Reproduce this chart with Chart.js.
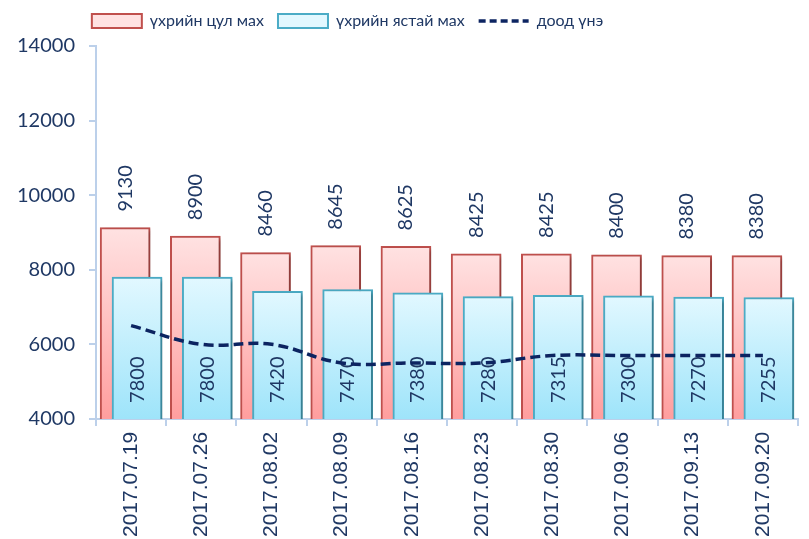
<!DOCTYPE html>
<html>
<head>
<meta charset="utf-8">
<script src="https://cdn.jsdelivr.net/npm/chart.js@4.4.0/dist/chart.umd.min.js"></script>
<style>
  body { margin: 0; overflow: hidden; background: #fff; }
  #wrap { width: 809px; height: 543px; }
</style>
</head>
<body>
<div id="wrap"><canvas id="price-chart"></canvas></div>
<script>
const dates = ['2017.07.19', '2017.07.26', '2017.08.02', '2017.08.09', '2017.08.16',
  '2017.08.23', '2017.08.30', '2017.09.06', '2017.09.13', '2017.09.20']
const fillet = [9130, 8900, 8460, 8645, 8625, 8425, 8425, 8400, 8380, 8380]
const boneMeat = [7800, 7800, 7420, 7470, 7380, 7280, 7315, 7300, 7270, 7255]
const lowPrice = [6500, 6000, 6000, 5500, 5500, 5500, 5700, 5700, 5700, 5700]
const yTicks = { min: 4000, max: 14000, step: 2000 }

const navy = '#1F3864'
const lineNavy = '#0C2461'
const axisBlue = '#BCD0EA'
const shift = 0.085 // bar offset from category centre, in categories

function grad(top, bottom, fallback) {
  return (c) => {
    const ch = c.chart
    const area = ch.chartArea
    if (!area || c.type !== 'data') return fallback
    const yTop = ch.scales.y.getPixelForValue(c.raw.y)
    const g = ch.ctx.createLinearGradient(0, yTop, 0, area.bottom)
    g.addColorStop(0, top)
    g.addColorStop(1, bottom)
    return g
  }
}

const shadowAndLabels = {
  id: 'shadowAndLabels',
  beforeDatasetDraw(chart, args) {
    const ctx = chart.ctx
    ctx.save()
    if (args.meta.type === 'bar') {
      ctx.shadowColor = 'rgba(0,0,0,0.28)'
      ctx.shadowBlur = 4
      ctx.shadowOffsetX = 3
      ctx.shadowOffsetY = 2
    }
  },
  afterDatasetDraw(chart, args) {
    const ctx = chart.ctx
    ctx.restore()
    if (args.meta.type !== 'bar') return
    const inside = args.index === 1
    const bottom = chart.scales.y.bottom
    ctx.save()
    ctx.fillStyle = navy
    ctx.font = '20px Lato, "Noto Sans", sans-serif'
    ctx.textAlign = 'left'
    ctx.textBaseline = 'middle'
    args.meta.data.forEach((bar, i) => {
      const p = bar.getProps(['x', 'y'], true)
      const val = chart.data.datasets[args.index].data[i].y
      ctx.save()
      ctx.translate(p.x, inside ? bottom - 16 : p.y - 16)
      ctx.rotate(-Math.PI / 2)
      ctx.fillText(String(val), 0, 0)
      ctx.restore()
    })
    ctx.restore()
  },
}

// legend sits a little left of centre and above the padded plot
const legendShift = {
  id: 'legendShift',
  beforeDraw(chart) {
    const lg = chart.legend
    lg.left -= 53
    lg.right -= 53
    lg.top -= 7
    lg.bottom -= 7
  },
}

const hiddenBarAxis = (off) => ({
  type: 'linear',
  display: false,
  offset: false,
  bounds: 'data',
  min: -0.5 + off,
  max: 9.5 + off,
  afterBuildTicks(scale) {
    scale.min = -0.5 + off
    scale.max = 9.5 + off
  },
})

new Chart(document.getElementById('price-chart'), {
  type: 'bar',
  data: {
    labels: dates,
    datasets: [
      {
        label: 'үхрийн цул мах',
        data: fillet.map((v, i) => ({ x: i, y: v })),
        xAxisID: 'xr',
        order: 2,
        grouped: false,
        backgroundColor: grad('rgb(255,226,226)', 'rgb(255,158,158)', 'rgb(255,205,205)'),
        borderColor: '#C0504D',
        borderWidth: 2,
        barThickness: 50,
        pointStyle: 'rect',
      },
      {
        label: 'үхрийн ястай мах',
        data: boneMeat.map((v, i) => ({ x: i, y: v })),
        xAxisID: 'xb',
        order: 1,
        grouped: false,
        backgroundColor: grad('rgb(226,248,255)', 'rgb(158,228,250)', 'rgb(205,242,253)'),
        borderColor: '#4BACC6',
        borderWidth: 2,
        barThickness: 50,
        pointStyle: 'rect',
      },
      {
        type: 'line',
        label: 'доод үнэ',
        data: lowPrice,
        xAxisID: 'x',
        order: 0,
        borderColor: lineNavy,
        backgroundColor: lineNavy,
        borderWidth: 3.5,
        borderDash: [10, 5],
        tension: 0.4,
        pointRadius: 0,
        pointStyle: 'line',
        fill: false,
      },
    ],
  },
  options: {
    responsive: true,
    maintainAspectRatio: false,
    animation: false,
    layout: { padding: { left: 3, right: 11, top: 6, bottom: 0 } },
    scales: {
      x: {
        type: 'category',
        offset: true,
        grid: { offset: true, drawOnChartArea: false, tickLength: 7, color: axisBlue, lineWidth: 2 },
        border: { color: axisBlue, width: 2 },
        ticks: {
          autoSkip: false,
          minRotation: 90,
          maxRotation: 90,
          padding: 6,
          color: navy,
          font: { family: '"Liberation Sans", Arial, sans-serif', size: 21 },
        },
      },
      xr: hiddenBarAxis(shift),
      xb: hiddenBarAxis(-shift),
      y: {
        min: yTicks.min,
        max: yTicks.max,
        grid: { drawOnChartArea: false, tickLength: 7, color: axisBlue, lineWidth: 2 },
        border: { color: axisBlue, width: 2 },
        ticks: {
          stepSize: yTicks.step,
          padding: 14,
          color: navy,
          font: { family: 'Lato, "Noto Sans", sans-serif', size: 20 },
          callback: (v) => String(v),
        },
      },
    },
    plugins: {
      tooltip: { enabled: false },
      legend: {
        labels: {
          usePointStyle: true,
          pointStyleWidth: 50,
          boxHeight: 14,
          padding: 14,
          color: navy,
          font: { family: 'Lato, "Noto Sans", sans-serif', size: 16 },
          sort: (a, b) => a.datasetIndex - b.datasetIndex,
          generateLabels(chart) {
            const items = Chart.defaults.plugins.legend.labels.generateLabels(chart)
            items.forEach((it) => {
              if (it.datasetIndex === 2) {
                it.lineDash = [7, 4]
                it.lineWidth = 3.5
                it.strokeStyle = lineNavy
              }
            })
            return items
          },
        },
      },
    },
  },
  plugins: [shadowAndLabels, legendShift],
})
</script>
</body>
</html>
